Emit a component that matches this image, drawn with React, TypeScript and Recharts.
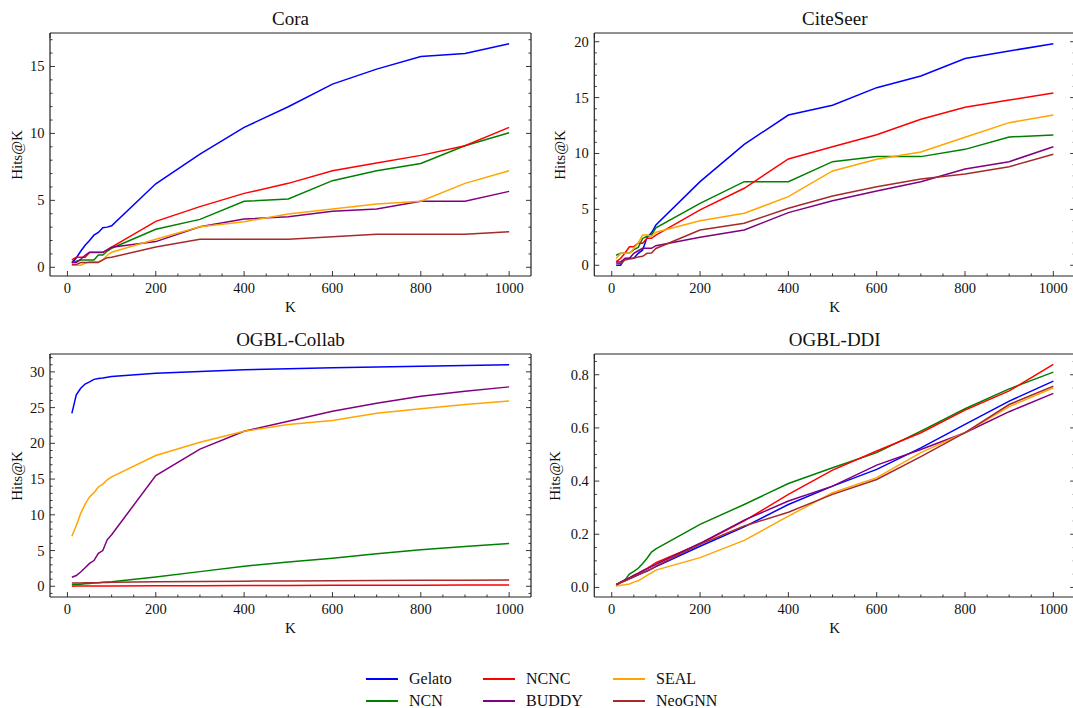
import React from 'react'
import { Line, LineChart, XAxis, YAxis } from 'recharts'

const FONT = '"Liberation Serif", "DejaVu Serif", serif'

const K = [10, 20, 30, 40, 50, 60, 70, 80, 90, 100, 200, 300, 400, 500, 600, 700, 800, 900, 1000]

// plot order matches the legend (column-major, 3 columns)
const METHODS = [
  { key: 'Gelato', color: '#0000ff' },
  { key: 'NCN', color: '#008000' },
  { key: 'NCNC', color: '#ff0000' },
  { key: 'BUDDY', color: '#800080' },
  { key: 'SEAL', color: '#ffa500' },
  { key: 'NeoGNN', color: '#a52a2a' },
]

const coraGelato = [0.35, 0.7, 1.2, 1.65, 2.0, 2.4, 2.6, 2.95, 3.0, 3.1, 6.24, 8.45, 10.45, 11.99, 13.68, 14.8, 15.75, 15.97, 16.7]
const coraNCNC = [0.55, 0.75, 0.75, 0.75, 1.1, 1.1, 1.1, 1.1, 1.3, 1.5, 3.43, 4.53, 5.52, 6.27, 7.21, 7.79, 8.36, 9.08, 10.45]
const coraSEAL = [0.15, 0.15, 0.15, 0.3, 0.42, 0.42, 0.42, 0.55, 0.9, 1.12, 2.09, 3.03, 3.41, 3.98, 4.35, 4.73, 4.93, 6.27, 7.21]
const coraNCN = [0.35, 0.45, 0.55, 0.55, 0.55, 0.55, 0.92, 0.92, 1.2, 1.42, 2.84, 3.58, 4.93, 5.1, 6.47, 7.21, 7.76, 9.08, 10.05]
const coraBUDDY = [0.35, 0.35, 0.6, 0.9, 1.12, 1.12, 1.12, 1.12, 1.3, 1.5, 1.92, 3.03, 3.6, 3.78, 4.18, 4.35, 4.93, 4.93, 5.67]
const coraNeoGNN = [0.2, 0.2, 0.35, 0.35, 0.35, 0.35, 0.35, 0.55, 0.72, 0.75, 1.52, 2.09, 2.09, 2.09, 2.29, 2.46, 2.46, 2.46, 2.66]

const citeGelato = [0, 0, 0.6, 0.63, 0.63, 1.07, 1.37, 2.5, 2.9, 3.6, 7.48, 10.82, 13.44, 14.31, 15.89, 16.93, 18.5, 19.17, 19.82]
const citeNCNC = [0.32, 0.6, 1.1, 1.66, 1.66, 1.97, 1.97, 2.41, 2.41, 2.7, 4.95, 6.89, 9.51, 10.61, 11.68, 13.06, 14.13, 14.78, 15.41]
const citeSEAL = [0.6, 1.07, 1.07, 1.07, 1.5, 2.0, 2.7, 2.7, 2.6, 2.95, 3.99, 4.65, 6.14, 8.44, 9.48, 10.13, 11.45, 12.76, 13.44]
const citeNCN = [0.9, 1.07, 1.07, 1.1, 1.4, 1.6, 2.4, 2.6, 2.7, 3.35, 5.54, 7.48, 7.48, 9.27, 9.72, 9.72, 10.37, 11.48, 11.65]
const citeBUDDY = [0.3, 0.3, 0.6, 0.63, 1.07, 1.3, 1.52, 1.52, 1.52, 1.75, 2.5, 3.16, 4.71, 5.78, 6.65, 7.48, 8.61, 9.27, 10.61]
const citeNeoGNN = [0.15, 0.15, 0.47, 0.55, 0.63, 0.75, 0.8, 1.07, 1.1, 1.5, 3.16, 3.76, 5.1, 6.2, 7.03, 7.72, 8.17, 8.82, 9.93]

const collabGelato = [24.2, 26.8, 27.7, 28.3, 28.6, 28.95, 29.07, 29.15, 29.25, 29.35, 29.8, 30.05, 30.3, 30.45, 30.56, 30.68, 30.8, 30.9, 30.98]
const collabNCNC = [0.02, 0.03, 0.03, 0.04, 0.04, 0.04, 0.05, 0.05, 0.05, 0.05, 0.07, 0.09, 0.1, 0.12, 0.13, 0.15, 0.16, 0.18, 0.19]
const collabSEAL = [7.0, 8.5, 10.2, 11.5, 12.5, 13.1, 13.9, 14.3, 14.9, 15.3, 18.29, 20.16, 21.7, 22.63, 23.19, 24.22, 24.83, 25.43, 25.94]
const collabNCN = [0.2, 0.25, 0.3, 0.35, 0.4, 0.45, 0.5, 0.55, 0.6, 0.65, 1.3, 2.05, 2.8, 3.4, 3.92, 4.55, 5.1, 5.55, 5.97]
const collabBUDDY = [1.26, 1.5, 2.0, 2.6, 3.2, 3.6, 4.6, 5.0, 6.5, 7.2, 15.5, 19.2, 21.7, 23.1, 24.5, 25.6, 26.6, 27.3, 27.9]
const collabNeoGNN = [0.45, 0.46, 0.47, 0.48, 0.49, 0.5, 0.51, 0.52, 0.53, 0.55, 0.62, 0.68, 0.72, 0.75, 0.78, 0.8, 0.83, 0.86, 0.89]

const ddiGelato = [0.01, 0.018, 0.025, 0.032, 0.04, 0.047, 0.055, 0.062, 0.07, 0.078, 0.155, 0.228, 0.312, 0.381, 0.444, 0.525, 0.613, 0.701, 0.776]
const ddiNCNC = [0.008, 0.018, 0.027, 0.036, 0.045, 0.054, 0.063, 0.072, 0.082, 0.093, 0.164, 0.25, 0.35, 0.441, 0.513, 0.582, 0.667, 0.739, 0.839]
const ddiSEAL = [0.005, 0.008, 0.01, 0.013, 0.02, 0.025, 0.035, 0.045, 0.055, 0.065, 0.112, 0.177, 0.268, 0.356, 0.413, 0.507, 0.582, 0.68, 0.751]
const ddiNCN = [0.011, 0.02, 0.028, 0.05, 0.06, 0.072, 0.09, 0.11, 0.133, 0.145, 0.237, 0.312, 0.391, 0.45, 0.507, 0.588, 0.672, 0.747, 0.81]
const ddiBUDDY = [0.01, 0.02, 0.028, 0.036, 0.045, 0.053, 0.062, 0.07, 0.078, 0.087, 0.166, 0.253, 0.325, 0.381, 0.46, 0.519, 0.582, 0.661, 0.73]
const ddiNeoGNN = [0.01, 0.018, 0.025, 0.032, 0.04, 0.047, 0.055, 0.062, 0.07, 0.08, 0.162, 0.231, 0.283, 0.35, 0.406, 0.492, 0.582, 0.688, 0.757]

type Series = Record<string, number[]>

function buildRows(series: Series) {
  return K.map((k, i) => {
    const row: Record<string, number> = { K: k }
    for (const m of METHODS) row[m.key] = series[m.key][i]
    return row
  })
}

const range = (from: number, to: number, step: number) => {
  const out: number[] = []
  const n = Math.round((to - from) / step)
  for (let i = 0; i <= n; i++) out.push(Math.round((from + i * step) * 1e6) / 1e6)
  return out
}

const isMajor = (v: number, step: number) => Math.abs(v / step - Math.round(v / step)) < 1e-6

const X_DOMAIN: [number, number] = [-39.5, 1049.5]
const X_TICKS = range(0, 1000, 50)

// matplotlib-style inward ticks, drawn from the axis line position
function makeTick(side: 'bottom' | 'left' | 'top' | 'right', majorStep: number, fmt?: (v: number) => string) {
  return (props: any) => {
    const { x, y, payload } = props
    const v = payload.value as number
    const major = isMajor(v, majorStep)
    const len = major ? 5 : 2.5
    const stroke = { stroke: '#222', strokeWidth: 0.9 }
    if (side === 'bottom') {
      return (
        <g>
          <line x1={x} y1={y} x2={x} y2={y - len} {...stroke} />
          {major && fmt && (
            <text x={x} y={y + 16.5} textAnchor="middle" fontSize={14.5} fontFamily={FONT} fill="#111">
              {fmt(v)}
            </text>
          )}
        </g>
      )
    }
    if (side === 'left') {
      return (
        <g>
          <line x1={x} y1={y} x2={x + len} y2={y} {...stroke} />
          {major && fmt && (
            <text x={x - 5.5} y={y + 5} textAnchor="end" fontSize={14.5} fontFamily={FONT} fill="#111">
              {fmt(v)}
            </text>
          )}
        </g>
      )
    }
    if (side === 'top') {
      return <line x1={x} y1={y} x2={x} y2={y + len} {...stroke} />
    }
    return <line x1={x} y1={y} x2={x - len} y2={y} {...stroke} />
  }
}

const frame = { stroke: '#222', strokeWidth: 1.2 }

function Panel({
  title,
  series,
  yDomain,
  yMajor,
  yMinor,
  yFmt,
  left,
  top,
  width,
  height,
  plot,
  yLabelX,
}: {
  title: string
  series: Series
  yDomain: [number, number]
  yMajor: number
  yMinor: number
  yFmt: (v: number) => string
  left: number
  top: number
  width: number
  height: number
  plot: { x0: number; x1: number; y0: number; y1: number }
  yLabelX: number
}) {
  const data = buildRows(series)
  const yTicks = range(Math.ceil(yDomain[0] / yMinor) * yMinor, Math.floor(yDomain[1] / yMinor) * yMinor, yMinor)
  // axes are 1px thick, so the margins stop 1px short of the plot box
  const margin = {
    top: plot.y0 - top - 1,
    left: plot.x0 - left - 1,
    right: left + width - plot.x1 - 1,
    bottom: top + height - plot.y1 - 1,
  }
  const cx = (plot.x0 + plot.x1) / 2
  const cy = (plot.y0 + plot.y1) / 2
  const xFmt = (v: number) => String(v)

  return (
    <>
      <div style={{ position: 'absolute', left, top }}>
        <LineChart width={width} height={height} data={data} margin={margin}>
          <XAxis
            dataKey="K"
            type="number"
            domain={X_DOMAIN}
            allowDataOverflow
            ticks={X_TICKS}
            interval={0}
            height={1}
            tickSize={0}
            tickMargin={0}
            tickLine={false}
            axisLine={frame}
            tick={makeTick('bottom', 200, xFmt)}
          />
          <XAxis
            xAxisId="top"
            orientation="top"
            type="number"
            domain={X_DOMAIN}
            allowDataOverflow
            ticks={X_TICKS}
            interval={0}
            height={1}
            tickSize={0}
            tickMargin={0}
            tickLine={false}
            axisLine={frame}
            tick={makeTick('top', 200)}
          />
          <YAxis
            type="number"
            domain={yDomain}
            allowDataOverflow
            ticks={yTicks}
            interval={0}
            width={1}
            tickSize={0}
            tickMargin={0}
            tickLine={false}
            axisLine={frame}
            tick={makeTick('left', yMajor, yFmt)}
          />
          <YAxis
            yAxisId="right"
            orientation="right"
            type="number"
            domain={yDomain}
            allowDataOverflow
            ticks={yTicks}
            interval={0}
            width={1}
            tickSize={0}
            tickMargin={0}
            tickLine={false}
            axisLine={frame}
            tick={makeTick('right', yMajor)}
          />
          {METHODS.map((m) => (
            <Line
              key={m.key}
              type="linear"
              dataKey={m.key}
              stroke={m.color}
              strokeWidth={1.5}
              dot={false}
              activeDot={false}
              isAnimationActive={false}
            />
          ))}
        </LineChart>
      </div>
      <div style={{ ...centered, left: cx, top: plot.y0 - 15, fontSize: 19 }}>{title}</div>
      <div style={{ ...centered, left: cx, top: plot.y1 + 31, fontSize: 15 }}>K</div>
      <div style={{ ...centered, left: yLabelX, top: cy, fontSize: 15, transform: 'translate(-50%, -50%) rotate(-90deg)' }}>
        Hits@K
      </div>
    </>
  )
}

const centered: React.CSSProperties = {
  position: 'absolute',
  transform: 'translate(-50%, -50%)',
  fontFamily: FONT,
  color: '#111',
  whiteSpace: 'nowrap',
  lineHeight: 1,
}

const int = (v: number) => String(v)
const oneDec = (v: number) => v.toFixed(1)

const LEGEND_COLS = [366, 483, 613]
const LEGEND_ROWS = [679, 701]

export default function App() {
  return (
    <div style={{ position: 'absolute', left: 0, top: 0, width: 1073, height: 708, background: '#fff', overflow: 'hidden' }}>
      <Panel
        title="Cora"
        series={{ Gelato: coraGelato, NCNC: coraNCNC, SEAL: coraSEAL, NCN: coraNCN, BUDDY: coraBUDDY, NeoGNN: coraNeoGNN }}
        yDomain={[-0.65, 17.5]}
        yMajor={5}
        yMinor={1}
        yFmt={int}
        left={0}
        top={0}
        width={536}
        height={320}
        plot={{ x0: 50, x1: 531, y0: 33, y1: 276 }}
        yLabelX={16.5}
      />
      <Panel
        title="CiteSeer"
        series={{ Gelato: citeGelato, NCNC: citeNCNC, SEAL: citeSEAL, NCN: citeNCN, BUDDY: citeBUDDY, NeoGNN: citeNeoGNN }}
        yDomain={[-0.96, 20.78]}
        yMajor={5}
        yMinor={1}
        yFmt={int}
        left={536}
        top={0}
        width={545}
        height={320}
        plot={{ x0: 594.3, x1: 1075.2, y0: 33, y1: 276 }}
        yLabelX={560}
      />
      <Panel
        title="OGBL-Collab"
        series={{ Gelato: collabGelato, NCNC: collabNCNC, SEAL: collabSEAL, NCN: collabNCN, BUDDY: collabBUDDY, NeoGNN: collabNeoGNN }}
        yDomain={[-1.5, 32.5]}
        yMajor={5}
        yMinor={1}
        yFmt={int}
        left={0}
        top={320}
        width={536}
        height={330}
        plot={{ x0: 50, x1: 531, y0: 354, y1: 597 }}
        yLabelX={16.5}
      />
      <Panel
        title="OGBL-DDI"
        series={{ Gelato: ddiGelato, NCNC: ddiNCNC, SEAL: ddiSEAL, NCN: ddiNCN, BUDDY: ddiBUDDY, NeoGNN: ddiNeoGNN }}
        yDomain={[-0.036, 0.878]}
        yMajor={0.2}
        yMinor={0.05}
        yFmt={oneDec}
        left={536}
        top={320}
        width={545}
        height={330}
        plot={{ x0: 594.3, x1: 1075.2, y0: 354, y1: 597 }}
        yLabelX={555}
      />
      {METHODS.map((m, i) => {
        const col = Math.floor(i / 2)
        const row = i % 2
        const lx = LEGEND_COLS[col]
        const ly = LEGEND_ROWS[row]
        return (
          <React.Fragment key={m.key}>
            <div style={{ position: 'absolute', left: lx, top: ly - 1, width: 32, height: 2, background: m.color }} />
            <div style={{ ...centered, transform: 'translate(0, -50%)', left: lx + 43, top: ly, fontSize: 16 }}>{m.key}</div>
          </React.Fragment>
        )
      })}
    </div>
  )
}
